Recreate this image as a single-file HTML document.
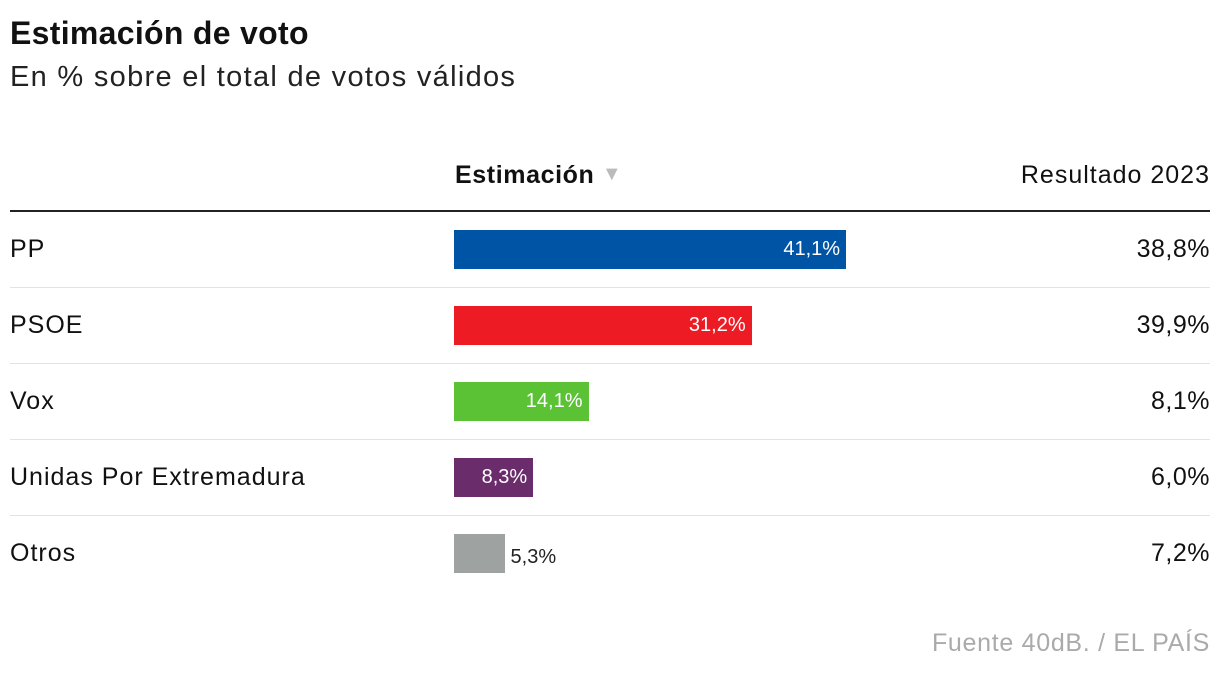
<!DOCTYPE html>
<html><head><meta charset="utf-8">
<style>
body{margin:0;width:1220px;height:674px;background:#fff;font-family:"Liberation Sans",sans-serif;color:#111;position:relative;overflow:hidden}
.abs{position:absolute;white-space:nowrap}
</style></head><body>
<div class="abs" style="left:10px;top:15px;font-size:32px;font-weight:bold;letter-spacing:0.3px">Estimación de voto</div>
<div class="abs" style="left:10px;top:61px;font-size:29px;letter-spacing:1.3px;color:#222">En % sobre el total de votos válidos</div>
<div class="abs" style="left:455px;top:161px;font-size:25px;font-weight:bold;letter-spacing:0.6px">Estimación <span style="color:#bbb;font-size:20px;position:relative;top:-3px">▼</span></div>
<div class="abs" style="right:10px;top:161px;font-size:25px;letter-spacing:1px">Resultado 2023</div>
<div class="abs" style="left:10px;top:210px;width:1200px;height:2px;background:#222"></div>
<div id="rows"></div>
<div class="abs" style="right:10px;top:629px;font-size:25px;letter-spacing:0.7px;color:#aaa">Fuente 40dB. / EL PAÍS</div>
<script>
const parties=["PP","PSOE","Vox","Unidas Por Extremadura","Otros"];
const estimates=[41.1,31.2,14.1,8.3,5.3];
const results2023=[38.8,39.9,8.1,6.0,7.2];
const colors=["#0054a6","#ed1c24","#5bc236","#6b2c6b","#9ea3a2"];
const x0=454, pxPer=9.54, rowTop=212, rowH=76;
const fmt=v=>v.toFixed(1).replace('.',',')+'%';
const root=document.getElementById('rows');
parties.forEach((p,i)=>{
  const y=rowTop+i*rowH;
  const lab=document.createElement('div');lab.className='abs';
  
  
  lab.style.cssText=`left:10px;top:${y+23}px;font-size:25px;letter-spacing:1px`;lab.textContent=p;root.appendChild(lab);
  const w=estimates[i]*pxPer;
  const bar=document.createElement('div');bar.className='abs';
  
  
  bar.style.cssText=`left:${x0}px;top:${y+18}px;width:${w}px;height:39px;background:${colors[i]}`;root.appendChild(bar);
  const val=document.createElement('div');val.className='abs';
  
  
  val.textContent=fmt(estimates[i]);
  if(w>70){val.style.cssText=`left:${x0}px;width:${w-6}px;text-align:right;top:${y+26}px;font-size:20px;color:#fff`;}
  else{val.style.cssText=`left:${x0+w+6}px;top:${y+30}px;font-size:20px;color:#222`;}
  root.appendChild(val);
  const r=document.createElement('div');r.className='abs';
  
  
  r.style.cssText=`right:10px;top:${y+23}px;font-size:25px;letter-spacing:0.5px`;r.textContent=fmt(results2023[i]);root.appendChild(r);
  if(i<parties.length-1){const s=document.createElement('div');s.className='abs';
    
    
    s.style.cssText=`left:10px;top:${y+75}px;width:1200px;height:1px;background:#e2e2e2`;root.appendChild(s);}
});
</script>
</body></html>
